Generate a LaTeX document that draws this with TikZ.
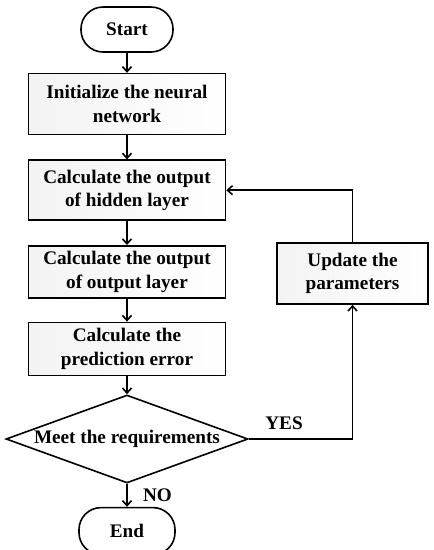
\documentclass[tikz,border=0pt]{standalone}
\usepackage{fontspec}
\setmainfont{Liberation Serif}
\usetikzlibrary{arrows.meta, positioning, shapes.geometric}

\begin{document}
\begin{tikzpicture}[x=1pt, y=1pt,
		font=\fontsize{19.2}{23.5}\selectfont\bfseries,
		every path/.style={line width=1.6pt},
		terminal/.style={rectangle, rounded corners=22pt, draw, fill=white, minimum width=92pt, minimum height=45pt},
		process/.style={rectangle, draw, left color=blue!5!gray!9, right color=white, align=center, inner sep=2pt, minimum width=197pt, minimum height=56pt},
		decision/.style={diamond, draw, fill=white, aspect=2.75, inner sep=0pt, minimum width=242pt, minimum height=88pt},
		flow/.style={-{Straight Barb[length=5pt, width=9pt]}}
		]
		\useasboundingbox (0,0) rectangle (434,-550);
		\node [terminal] (start) at (127,-29.5) {Start};
		\node [process, minimum height=61pt] (init) [below=20pt of start] {Initialize the neural\\network};
		\node [process, minimum height=60pt] (hidden) [below=24pt of init] {Calculate the output\\of hidden layer};
		\node [process, minimum height=52pt] (output) [below=24pt of hidden] {Calculate the output\\of output layer};
		\node [process, minimum height=53pt] (error) [below=23pt of output] {Calculate the\\prediction error};
		\node [decision] (meet) [below=18pt of error] {Meet the requirements};
		\node [terminal, minimum width=96pt, minimum height=47pt] (end) [below=23pt of meet] {End};
		\node [process, minimum width=151pt, minimum height=61pt] (update) at (352.5,-273.5) {Update the\\parameters};
		
		\draw [flow] (start) -- (init);
		\draw [flow] (init) -- (hidden);
		\draw [flow] (hidden) -- (output);
		\draw [flow] (output) -- (error);
		\draw [flow] (error) -- (meet);
		\draw [flow] (meet) -- node [right=12pt] {NO} (end);
		\draw [flow] (meet.east) -| node [pos=0.17, above=5pt] {YES} (update.south);
		\draw [flow] (update.north) |- (hidden.east);
	\end{tikzpicture}
\end{document}
